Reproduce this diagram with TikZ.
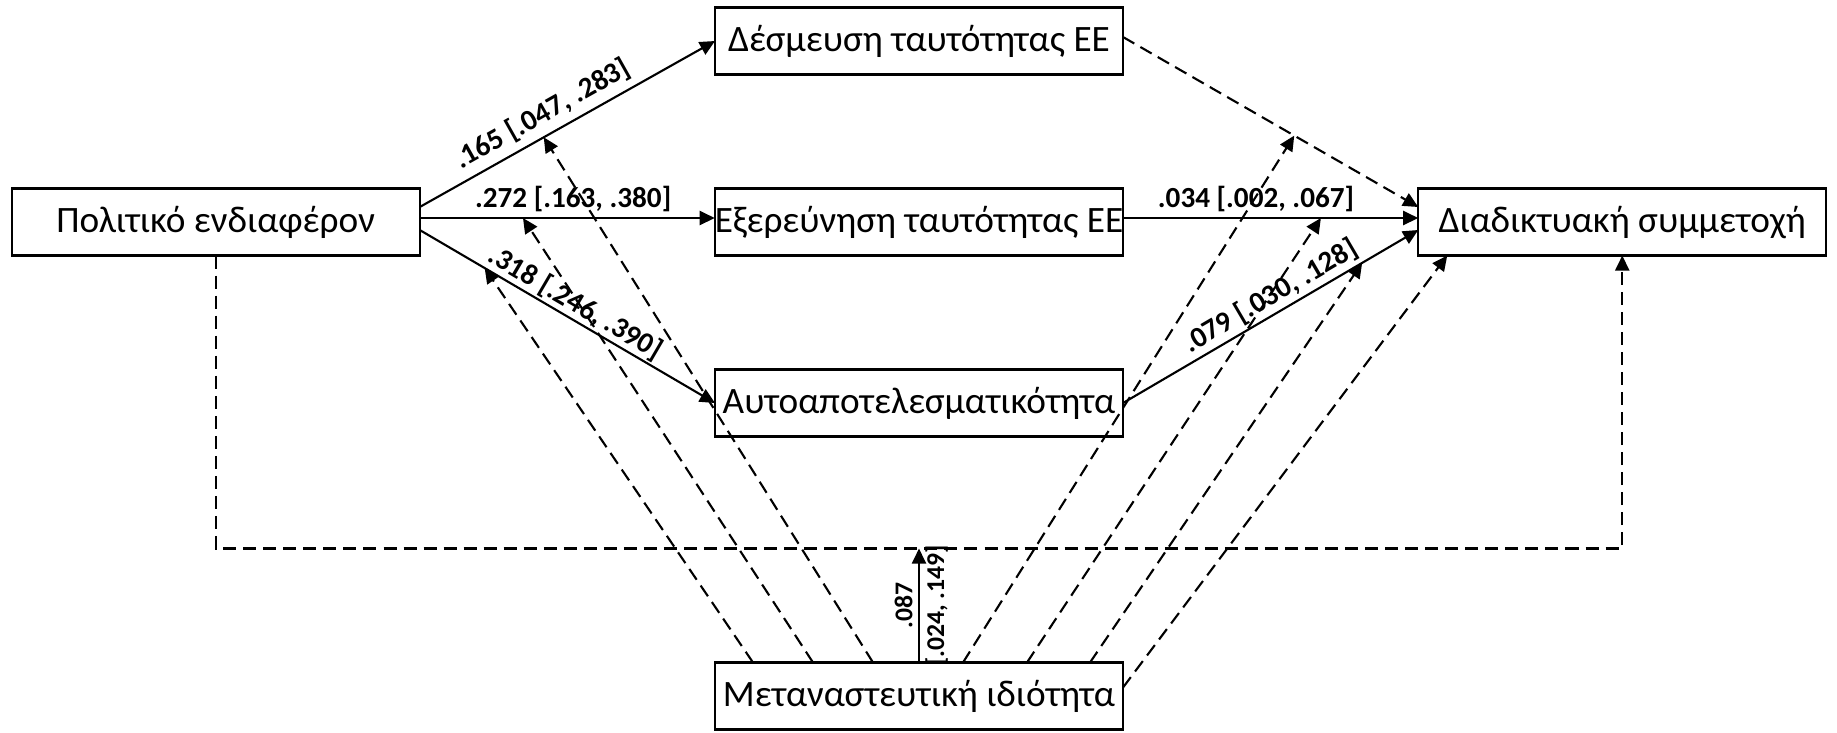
\documentclass[tikz,border=0pt]{standalone}
\usepackage{fontspec}
\setmainfont{Carlito}
\usetikzlibrary{positioning}
\usetikzlibrary{arrows.meta}

\begin{document}
\begin{tikzpicture}[line width=0.6pt, font=\fontsize{10.6}{12}\selectfont,
    box/.style={draw, minimum width=4.08cm, minimum height=0.67cm, inner sep=0pt, outer sep=0pt},
    effect/.style={-{Triangle[length=4.3pt, width=4pt]}},
    nseffect/.style={effect, dash pattern=on 3.7pt off 2pt},
    coef/.style={font=\fontsize{8.3}{9}\selectfont\bfseries, inner sep=1.5pt},
    smallcoef/.style={coef, font=\fontsize{7.3}{8}\selectfont\bfseries}]
    \useasboundingbox (-9.19,2.22) rectangle (9.18,-5.10);

    % Nodes
    \node [box] (explore) at (0,0) {Εξερεύνηση ταυτότητας ΕΕ};
    \node [box, above=1.14cm of explore] (commit) {Δέσμευση ταυτότητας ΕΕ};
    \node [box, below=1.14cm of explore] (efficacy) {Αυτοαποτελεσματικότητα};
    \node [box, left=2.95cm of explore] (interest) {Πολιτικό ενδιαφέρον};
    \node [box, right=2.95cm of explore] (online) {Διαδικτυακή συμμετοχή};
    \node [box, below=2.26cm of efficacy] (migrant) {Μεταναστευτική ιδιότητα};
    \coordinate (direct) at ([yshift=1.14cm]migrant.north);

    % Paths
    \draw [effect] ([yshift=1.5mm]interest.east) -- node [coef, sloped, above, pos=0.45, inner sep=2pt] {.165 [.047, .283]} coordinate [pos=0.42] (modcommit) (commit.west);
    \draw [effect] ([yshift=0.4mm]interest.east) -- node [coef, above, pos=0.52] {.272 [.163, .380]} coordinate [pos=0.35] (modexplore) ([yshift=0.4mm]explore.west);
    \draw [effect] ([yshift=-0.8mm]interest.east) -- node [coef, sloped, above, pos=0.5, inner sep=0.5pt] {.318 [.246, .390]} coordinate [pos=0.22] (modefficacy) (efficacy.west);

    \draw [nseffect] ([yshift=0.4mm]commit.east) -- coordinate [pos=0.58] (modcommitout) ([yshift=1.5mm]online.west);
    \draw [effect] ([yshift=0.4mm]explore.east) -- node [coef, above, pos=0.45] {.034 [.002, .067]} coordinate [pos=0.67] (modexploreout) ([yshift=0.4mm]online.west);
    \draw [effect] (efficacy.east) -- node [coef, sloped, above, pos=0.53, inner sep=1pt] {.079 [.030, .128]} coordinate [pos=0.81] (modefficacyout) ([yshift=-0.8mm]online.west);

    \draw [nseffect] (interest.south) |- (direct) -| (online.south);
    \draw [effect] (migrant.north) -- node [smallcoef, sloped, above] {.087} node [smallcoef, sloped, below] {[.024, .149]} (direct);

    % Moderation
    \draw [nseffect] ([xshift=-16.6mm]migrant.north) -- (modefficacy);
    \draw [nseffect] ([xshift=-10.6mm]migrant.north) -- (modexplore);
    \draw [nseffect] ([xshift=-4.6mm]migrant.north) -- (modcommit);
    \draw [nseffect] ([xshift=4.4mm]migrant.north) -- (modcommitout);
    \draw [nseffect] ([xshift=10.8mm]migrant.north) -- (modexploreout);
    \draw [nseffect] ([xshift=17.1mm]migrant.north) -- (modefficacyout);
    \draw [nseffect] ([yshift=0.85mm]migrant.east) -- ([xshift=2.9mm]online.south west);
\end{tikzpicture}
\end{document}
